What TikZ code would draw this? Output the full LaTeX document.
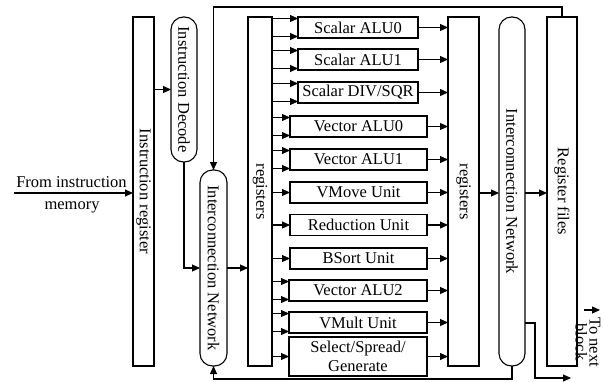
\documentclass[tikz,border=0pt]{standalone}
\usepackage{fontspec}
\setmainfont{Liberation Serif}
\usetikzlibrary{arrows.meta}
\begin{document}
\begin{tikzpicture}[x=1pt,y=-1pt,
  every node/.style={font=\fontsize{16.5}{18}\selectfont, inner sep=0pt, outer sep=0pt},
  box/.style={draw, line width=1.1pt},
  pill/.style={box, rounded corners=12.5pt},
  unit/.style={box, minimum height=21pt},
  lbl/.style={rotate=-90},
  arr/.style={line width=1.1pt, -{Triangle[length=8pt,width=7pt]}},
  ln/.style={line width=1.1pt}
]
\useasboundingbox (0,0) rectangle (604,381);

% main columns
\node[box, minimum width=21pt, minimum height=349pt] (ireg) at (143.5,191.5) {};
\node[lbl] (iregt) at (ireg.center) {Instruction register};
\node[pill, minimum width=26pt, minimum height=145pt] (idec) at (184,89.5) {};
\node[lbl] (idect) at (idec.center) {Instruction Decode};
\node[pill, minimum width=27pt, minimum height=196pt] (lnet) at (213.5,268) {};
\node[lbl] (lnett) at (lnet.center) {Interconnection Network};
\node[box, minimum width=24pt, minimum height=349pt] (lreg) at (260,191.5) {};
\node[lbl] (lregt) at (lreg.center) {registers};
\node[box, minimum width=31pt, minimum height=349pt] (rreg) at (463.5,191.5) {};
\node[lbl] (rregt) at (rreg.center) {registers};
\node[pill, minimum width=26pt, minimum height=349pt] (rnet) at (512,191.5) {};
\node[lbl] (rnett) at (rnet.center) {Interconnection Network};
\node[box, minimum width=30pt, minimum height=349pt] (rf) at (562,191.5) {};
\node[lbl] (rft) at (rf.center) {Register files};

% functional units
\node[unit, minimum width=120pt] (salu0) at (358,27.5) {Scalar ALU0};
\node[unit, minimum width=120pt] (salu1) at (358,59.5) {Scalar ALU1};
\node[unit, minimum width=120pt] (sdiv) at (358,92.5) {Scalar DIV/SQR};
\node[unit, minimum width=137pt] (valu0) at (358.5,126.5) {Vector ALU0};
\node[unit, minimum width=137pt] (valu1) at (358.5,159.5) {Vector ALU1};
\node[unit, minimum width=137pt] (vmove) at (358.5,192.5) {VMove Unit};
\node[unit, minimum width=137pt] (red) at (358.5,225) {Reduction Unit};
\node[unit, minimum width=137pt] (bsort) at (358.5,258.5) {BSort Unit};
\node[unit, minimum width=138pt] (valu2) at (358,290.5) {Vector ALU2};
\node[unit, minimum width=138pt] (vmult) at (358,322.5) {VMult Unit};
\node[unit, minimum width=138pt, minimum height=39pt, align=center,
      font=\fontsize{16.5}{18.5}\selectfont] (sel) at (358,356.5) {Select/Spread/\\Generate};

% inputs from register bank
\foreach \u in {salu0,salu1,sdiv,valu0,valu1,valu2,vmult}{
  \draw[arr] ([yshift=-1.5pt]\u.north west -| lreg.east) -- ([yshift=-1.5pt]\u.north west);
  \draw[arr] ([yshift=1.5pt]\u.south west -| lreg.east) -- ([yshift=1.5pt]\u.south west);
}
\foreach \u in {vmove,red,bsort,sel}{
  \draw[arr] (lreg.east |- \u.west) -- (\u.west);
}
% outputs to register bank
\foreach \u in {salu0,salu1,sdiv,valu0,valu1,vmove,red,bsort,valu2,vmult,sel}{
  \draw[arr] (\u.east) -- (rreg.west |- \u.east);
}

% instruction path
\coordinate (src) at (14,193);
\node[anchor=base] (fromt) at (71.5,187) {From instruction};
\node[anchor=base] (memt) at (72,209) {memory};
\draw[arr] (src) -- (ireg.west |- src);
\draw[arr] (ireg.east |- idec.west) -- (idec.west);
\draw[arr] (idec.south) |- (lnet.west);
\draw[arr] (lnet.east) -- (lreg.west |- lnet.east);

% right side
\coordinate (mid) at (0,193);
\draw[arr] (rreg.east |- mid) -- (rnet.west |- mid);
\draw[arr] (rnet.east |- mid) -- (rf.west |- mid);

% feedback loops
\coordinate (top) at (0,7);
\coordinate (bot) at (0,379);
\draw[arr] (rf.north) -- (rf.north |- top) -| (lnet.north);
\draw[arr] (rnet.south) -- (rnet.south |- bot) -| (lnet.south);

% to next block
\coordinate (rb1) at (535,323);
\coordinate (rb2) at (571,378);
\draw[arr] (rnet.east |- rb1) -- (rb1) |- (rb2);
\coordinate (tn1) at (584,310);
\coordinate (tn2) at (600,310);
\draw[arr] (tn1) -- (tn2);
\node[lbl, align=center, font=\fontsize{16.5}{14}\selectfont] (tonext) at (588,342) {To next\\block};
\end{tikzpicture}
\end{document}
